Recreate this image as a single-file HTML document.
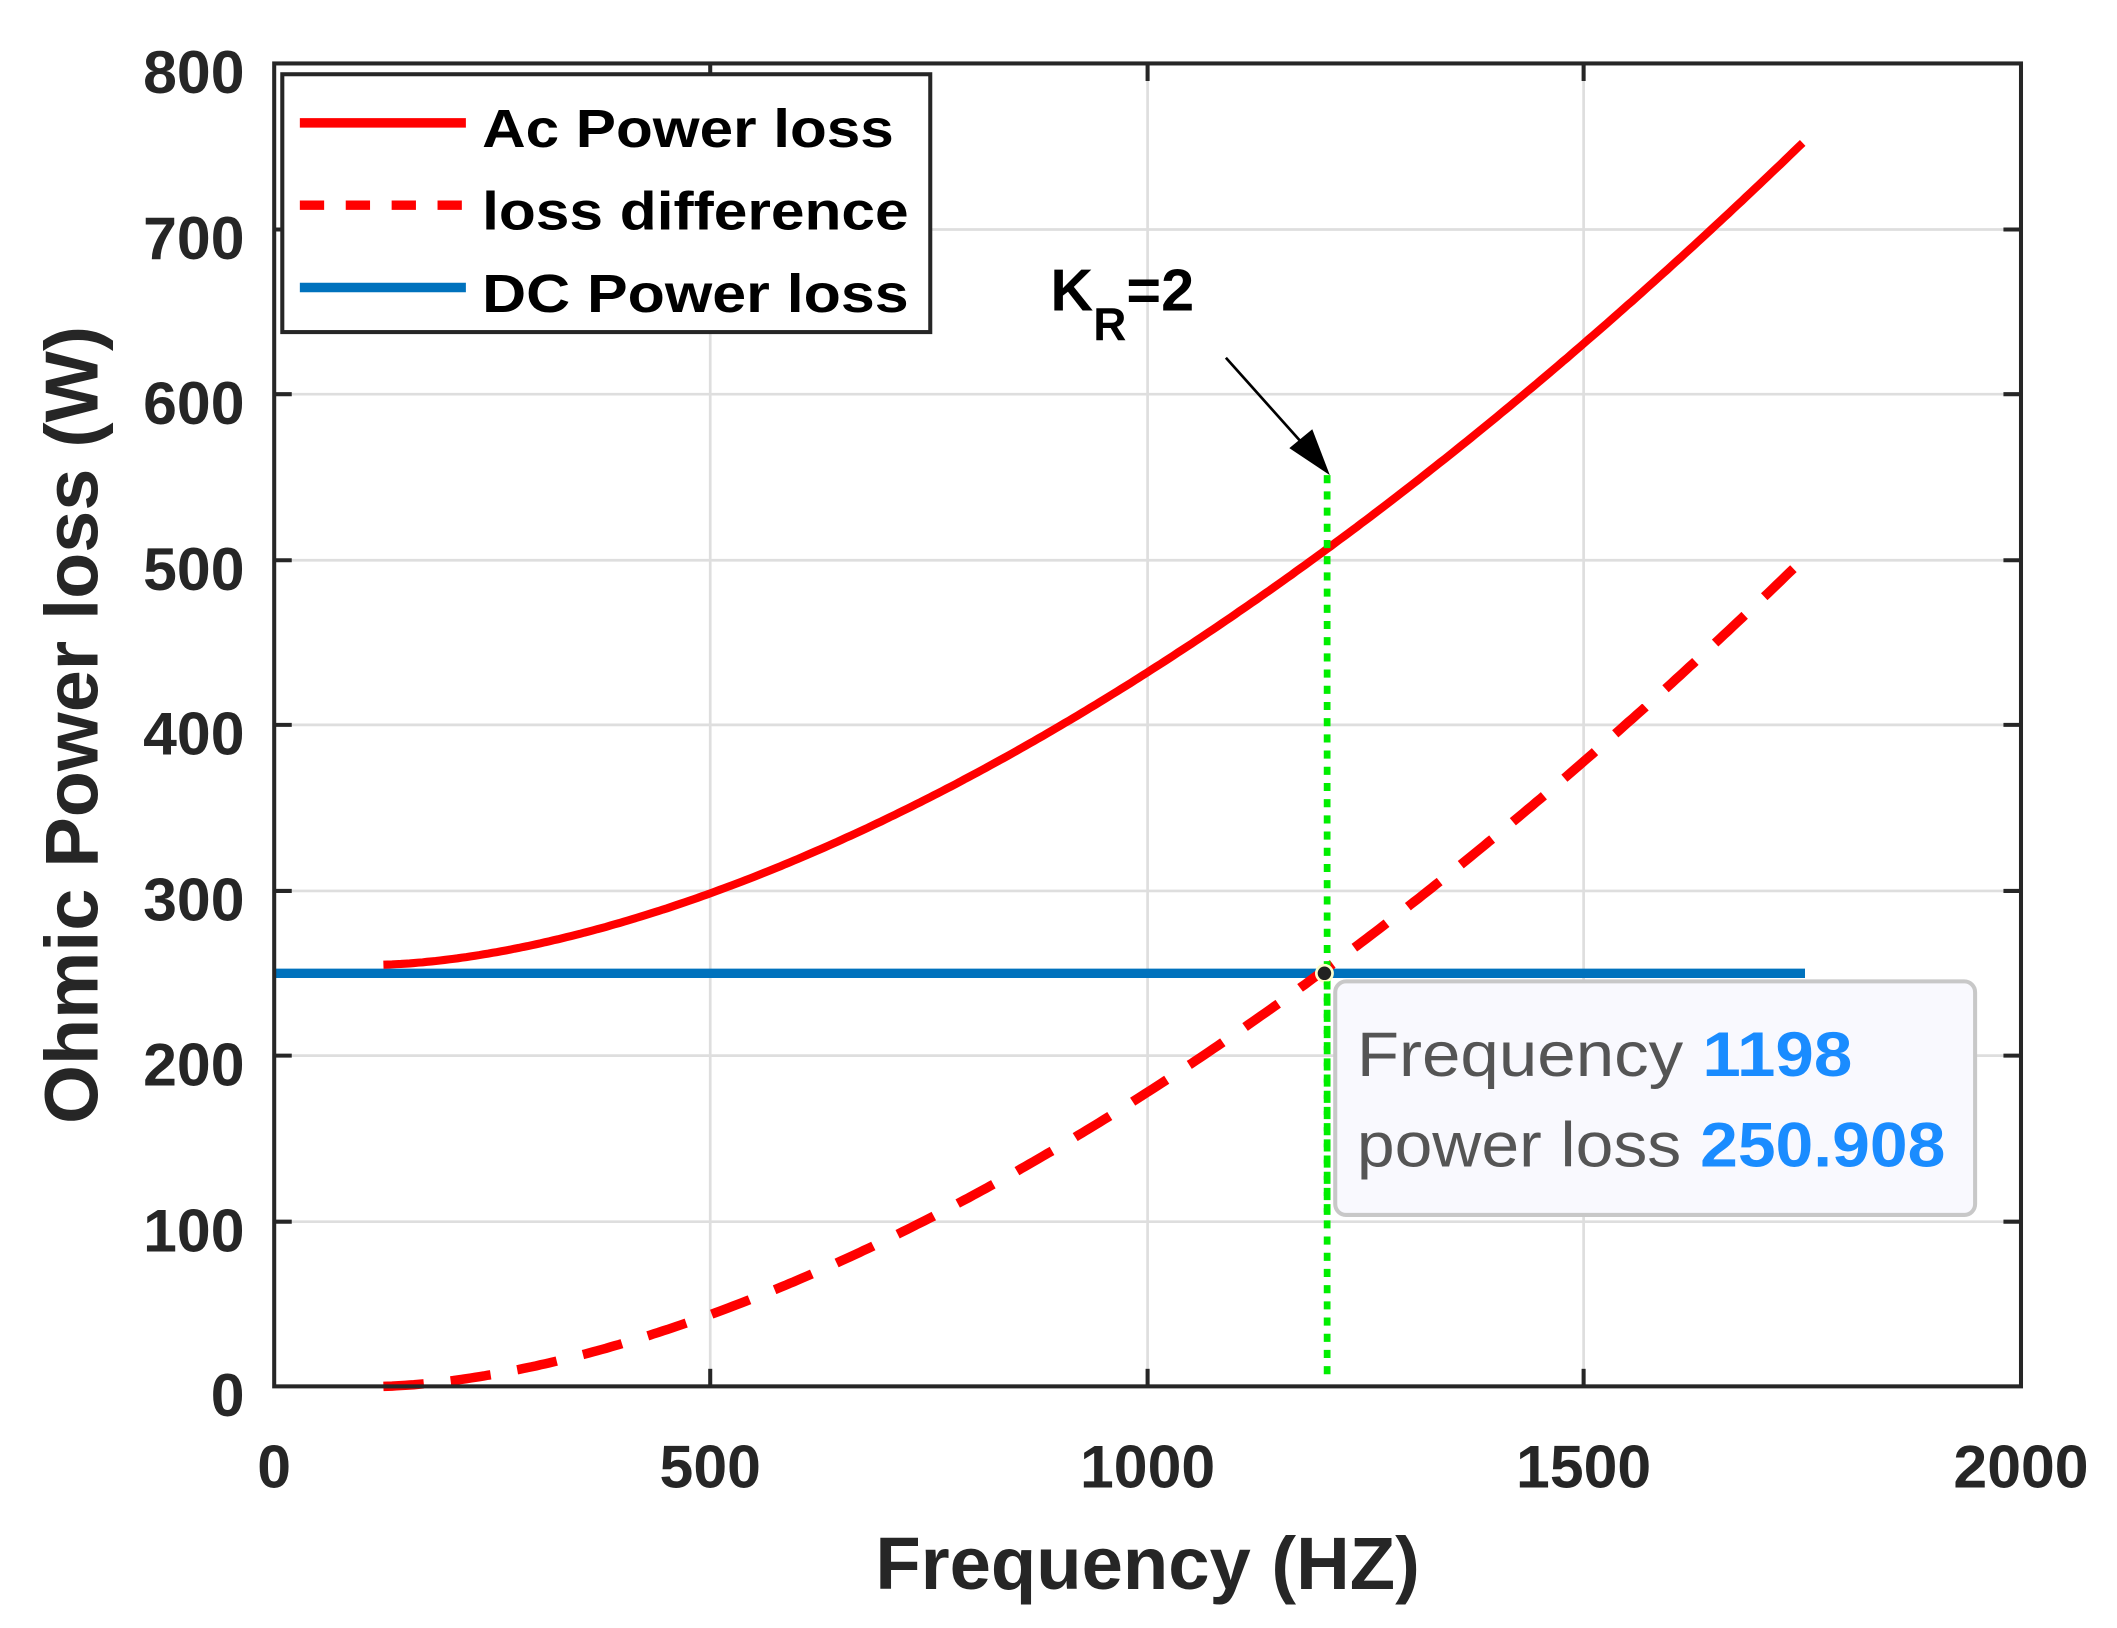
<!DOCTYPE html>
<html><head><meta charset="utf-8"><style>
html,body{margin:0;padding:0;background:#fff;}
svg{display:block;}
text{font-family:"Liberation Sans",Arial,sans-serif;}
</style></head><body>
<svg id="s" width="2117" height="1628" viewBox="0 0 1568 1206" xmlns="http://www.w3.org/2000/svg">
<rect width="1568" height="1206" fill="#fff"/>
<g stroke="#dedede" stroke-width="2">
<line x1="526" y1="47" x2="526" y2="1027"/><line x1="850" y1="47" x2="850" y2="1027"/><line x1="1173" y1="47" x2="1173" y2="1027"/>
<line x1="203" y1="905" x2="1497" y2="905"/><line x1="203" y1="782" x2="1497" y2="782"/><line x1="203" y1="660" x2="1497" y2="660"/><line x1="203" y1="537" x2="1497" y2="537"/><line x1="203" y1="415" x2="1497" y2="415"/><line x1="203" y1="292" x2="1497" y2="292"/><line x1="203" y1="170" x2="1497" y2="170"/>
</g>
<g stroke="#262626" stroke-width="3">
<line x1="526" y1="1027" x2="526" y2="1014"/><line x1="850" y1="1027" x2="850" y2="1014"/><line x1="1173" y1="1027" x2="1173" y2="1014"/>
<line x1="526" y1="47" x2="526" y2="60"/><line x1="850" y1="47" x2="850" y2="60"/><line x1="1173" y1="47" x2="1173" y2="60"/>
<line x1="203" y1="905" x2="216" y2="905"/><line x1="203" y1="782" x2="216" y2="782"/><line x1="203" y1="660" x2="216" y2="660"/><line x1="203" y1="537" x2="216" y2="537"/><line x1="203" y1="415" x2="216" y2="415"/><line x1="203" y1="292" x2="216" y2="292"/><line x1="203" y1="170" x2="216" y2="170"/>
<line x1="1497" y1="905" x2="1484" y2="905"/><line x1="1497" y1="782" x2="1484" y2="782"/><line x1="1497" y1="660" x2="1484" y2="660"/><line x1="1497" y1="537" x2="1484" y2="537"/><line x1="1497" y1="415" x2="1484" y2="415"/><line x1="1497" y1="292" x2="1484" y2="292"/><line x1="1497" y1="170" x2="1484" y2="170"/>
</g>
<line x1="203" y1="721" x2="1337" y2="721" stroke="#0072bd" stroke-width="7"/>
<path id="ac" fill="none" stroke="#ff0000" stroke-width="6"/>
<path id="df" fill="none" stroke="#ff0000" stroke-width="7" stroke-dasharray="30,20"/>
<line x1="983" y1="352" x2="983" y2="1018" stroke="#00ee00" stroke-width="5" stroke-dasharray="6,6"/>
<circle cx="981" cy="721" r="6" fill="#222" stroke="#ffffcc" stroke-width="2"/>
<rect x="989" y="727" width="474" height="173" rx="8" fill="#f9f9fe" stroke="#c8c8c8" stroke-width="3"/>
<line x1="983" y1="727" x2="983" y2="900" stroke="#00ee00" stroke-width="5" stroke-dasharray="6,6"/>
<text x="1005" y="797" font-size="47" fill="#555" textLength="367" lengthAdjust="spacingAndGlyphs">Frequency <tspan fill="#1a8cff" font-weight="bold">1198</tspan></text>
<text x="1005" y="864" font-size="47" fill="#555" textLength="436" lengthAdjust="spacingAndGlyphs">power loss <tspan fill="#1a8cff" font-weight="bold">250.908</tspan></text>
<rect x="203" y="47" width="1294" height="980" fill="none" stroke="#262626" stroke-width="3"/>
<rect x="209" y="55" width="480" height="191" fill="#fff" stroke="#262626" stroke-width="3"/>
<line x1="222" y1="91" x2="345" y2="91" stroke="#ff0000" stroke-width="7"/>
<line x1="222" y1="152" x2="345" y2="152" stroke="#ff0000" stroke-width="7" stroke-dasharray="18,16"/>
<line x1="222" y1="213" x2="345" y2="213" stroke="#0072bd" stroke-width="7"/>
<g font-size="40" font-weight="bold" fill="#000">
<text x="357" y="109" textLength="305" lengthAdjust="spacingAndGlyphs">Ac Power loss</text>
<text x="357" y="170" textLength="316" lengthAdjust="spacingAndGlyphs">loss difference</text>
<text x="357" y="231" textLength="316" lengthAdjust="spacingAndGlyphs">DC Power loss</text>
</g>
<line x1="908" y1="265" x2="975" y2="340" stroke="#000" stroke-width="2"/>
<polygon points="985,352 955,332 972,318" fill="#000"/>
<text x="778" y="230" font-size="44" font-weight="bold">K<tspan font-size="34" dy="22">R</tspan><tspan dy="-22">=2</tspan></text>
<g font-size="45" font-weight="bold" fill="#262626" text-anchor="end">
<text x="181" y="1049">0</text><text x="181" y="927">100</text><text x="181" y="804">200</text><text x="181" y="682">300</text><text x="181" y="559">400</text><text x="181" y="437">500</text><text x="181" y="314">600</text><text x="181" y="192">700</text><text x="181" y="69">800</text>
</g>
<g font-size="45" font-weight="bold" fill="#262626" text-anchor="middle">
<text x="203" y="1102">0</text><text x="526" y="1102">500</text><text x="850" y="1102">1000</text><text x="1173" y="1102">1500</text><text x="1497" y="1102">2000</text>
</g>
<text x="850" y="1177" font-size="55" font-weight="bold" fill="#262626" text-anchor="middle">Frequency (HZ)</text>
<text transform="translate(72,537) rotate(-90)" font-size="56" font-weight="bold" fill="#262626" text-anchor="middle">Ohmic Power loss (W)</text>
</svg>
<script>
function X(f){return 203+f*0.647;}function Y(v){return 1027-v*1.225;}
function diff(f){var t=(f-120)/1078;return t<=0?0:250*Math.pow(t,1.676);}
var a="",d="";
for(var f=125;f<=1750;f+=5){var df=diff(f);var ac=255+df*(497/500);
a+=(a?"L":"M")+X(f).toFixed(1)+","+Y(ac).toFixed(1);
d+=(d?"L":"M")+X(f).toFixed(1)+","+Y(df).toFixed(1);}
document.getElementById("ac").setAttribute("d",a);
document.getElementById("df").setAttribute("d",d);
</script>
</body></html>
